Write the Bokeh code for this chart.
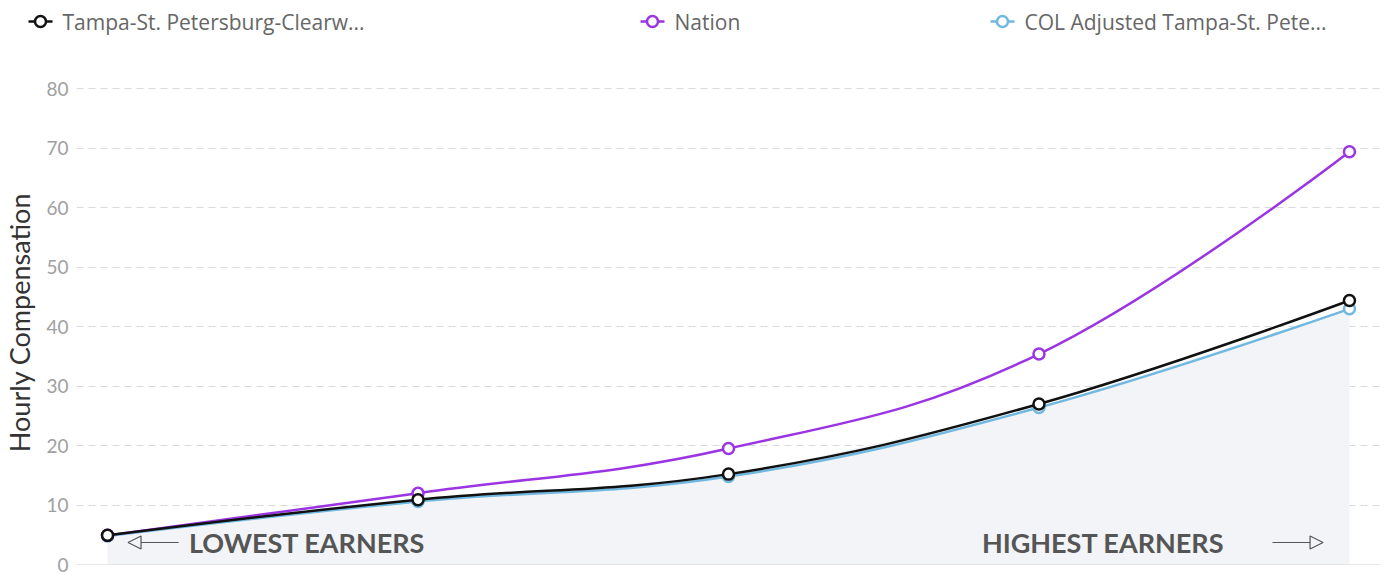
from bokeh.plotting import figure
from bokeh.layouts import column, row
from bokeh.models import (Range1d, Span, Arrow, NormalHead,
                          Label, ColumnDataSource, FixedTicker)
from bokeh.core.properties import value
from bokeh.embed import file_html
from bokeh.resources import INLINE

# ---- data ----
percentiles = [0, 1, 2, 3, 4]  # lowest -> highest earners
tampa = [4.9, 10.9, 15.2, 27.0, 44.4]
nation = [4.9, 12.0, 19.5, 35.4, 69.4]
col_adjusted = [4.8, 10.6, 14.8, 26.4, 43.0]
series_names = ["Tampa-St. Petersburg-Clearw...", "Nation", "COL Adjusted Tampa-St. Pete..."]
y_ticks = [0, 10, 20, 30, 40, 50, 60, 70, 80]

C_TAMPA = "#111111"
C_NATION = "#9b34e3"
C_COL = "#70b8e0"
colors = [C_TAMPA, C_NATION, C_COL]


def spline_segments(xs, ys, smoothing=1.5):
    """Cubic bezier segments through the points (Highcharts-style spline)."""
    n = len(xs)
    left = [(xs[i], ys[i]) for i in range(n)]
    right = [(xs[i], ys[i]) for i in range(n)]
    d = smoothing + 1
    for i in range(1, n - 1):
        x, y = xs[i], ys[i]
        lx, ly = xs[i - 1], ys[i - 1]
        nx, ny = xs[i + 1], ys[i + 1]
        lcx = (smoothing * x + lx) / d
        lcy = (smoothing * y + ly) / d
        rcx = (smoothing * x + nx) / d
        rcy = (smoothing * y + ny) / d
        if rcx != lcx:
            corr = ((rcy - lcy) * (rcx - x)) / (rcx - lcx) + y - rcy
            lcy += corr
            rcy += corr
        if lcy > ly and lcy > y:
            lcy = max(ly, y)
            rcy = 2 * y - lcy
        elif lcy < ly and lcy < y:
            lcy = min(ly, y)
            rcy = 2 * y - lcy
        if rcy > ny and rcy > y:
            rcy = max(ny, y)
            lcy = 2 * y - rcy
        elif rcy < ny and rcy < y:
            rcy = min(ny, y)
            lcy = 2 * y - rcy
        left[i] = (lcx, lcy)
        right[i] = (rcx, rcy)
    seg = dict(x0=[], y0=[], x1=[], y1=[], cx0=[], cy0=[], cx1=[], cy1=[])
    for i in range(n - 1):
        seg["x0"].append(xs[i]); seg["y0"].append(ys[i])
        seg["x1"].append(xs[i + 1]); seg["y1"].append(ys[i + 1])
        seg["cx0"].append(right[i][0]); seg["cy0"].append(right[i][1])
        seg["cx1"].append(left[i + 1][0]); seg["cy1"].append(left[i + 1][1])
    return ColumnDataSource(seg)


# ---------- legend strip (pixel coordinates) ----------
lgfig = figure(width=1387, height=45, output_backend="svg", toolbar_location=None,
               x_range=Range1d(0, 1387), y_range=Range1d(45, 0),
               min_border=0, min_border_left=0, min_border_right=0,
               min_border_top=0, min_border_bottom=0)
lgfig.axis.visible = False
lgfig.grid.visible = False
lgfig.outline_line_color = None
glyph_left = [28, 640, 990]
lg_y = 21
lgsrc = ColumnDataSource(dict(
    x0=glyph_left, x1=[g + 24 for g in glyph_left], xc=[g + 12 for g in glyph_left],
    y=[lg_y] * 3, tx=[g + 34 for g in glyph_left], color=colors, label=series_names))
lgfig.segment(x0="x0", x1="x1", y0="y", y1="y", line_color="color", line_width=2.5, source=lgsrc)
lgfig.scatter(x="xc", y="y", size=11, marker="circle", fill_color="white",
              line_color="color", line_width=2.5, source=lgsrc)
lgfig.text(x="tx", y="y", text="label", text_font=value("Open Sans"), text_font_size="21px",
           text_color="#666666", text_baseline="middle", text_align="left", source=lgsrc)

# ---------- main chart ----------
p = figure(frame_width=1304, frame_height=484, output_backend="svg", toolbar_location=None,
           x_range=Range1d(-0.1, 4.1), y_range=Range1d(0, 81.4),
           min_border_left=76, min_border_right=7, min_border_top=35, min_border_bottom=11)
p.outline_line_color = None
p.background_fill_color = "white"

p.xaxis.visible = False
yax = p.yaxis[0]
yax.ticker = FixedTicker(ticks=y_ticks)
yax.axis_line_color = None
yax.major_tick_line_color = None
yax.minor_tick_line_color = None
yax.major_tick_out = 0
yax.major_tick_in = 0
yax.major_label_text_font = "Lato"
yax.major_label_text_font_size = "19px"
yax.major_label_text_color = "#a0a0a0"
yax.major_label_standoff = 8
yax.axis_label = "Hourly Compensation"
yax.axis_label_text_font = "Lato"
yax.axis_label_text_font_style = "normal"
yax.axis_label_text_font_size = "27px"
yax.axis_label_text_color = "#333333"
yax.axis_label_standoff = 7

p.xgrid.visible = False
p.ygrid.grid_line_color = "#d9d9d9"
p.ygrid.grid_line_dash = "7 5"
p.ygrid.grid_line_width = 1
p.add_layout(Span(location=0, dimension="width", line_color="#cfcfcf", line_width=1.2))

# area under COL adjusted series
p.varea(x=percentiles, y1=0, y2=col_adjusted, fill_color="#f2f4f7", fill_alpha=1)

for vals, color in [(col_adjusted, C_COL), (nation, C_NATION), (tampa, C_TAMPA)]:
    src = spline_segments(percentiles, vals)
    p.bezier(x0="x0", y0="y0", x1="x1", y1="y1", cx0="cx0", cy0="cy0", cx1="cx1", cy1="cy1",
             source=src, line_color=color, line_width=2.5)
    p.scatter(x=percentiles, y=vals, size=11, marker="circle", fill_color="white",
              line_color=color, line_width=2.5)

# earner annotations
head_l = NormalHead(size=13, fill_alpha=0, line_color="#555555", line_width=1.2)
head_r = NormalHead(size=13, fill_alpha=0, line_color="#555555", line_width=1.2)
p.add_layout(Arrow(end=head_l, x_start=0.229, y_start=3.7, x_end=0.066, y_end=3.7,
                   line_color="#555555", line_width=1.2))
p.add_layout(Arrow(end=head_r, x_start=3.752, y_start=3.7, x_end=3.915, y_end=3.7,
                   line_color="#555555", line_width=1.2))
p.add_layout(Label(x=0.262, y=3.7, text="LOWEST EARNERS", text_baseline="middle",
                   text_align="left", text_font="Lato", text_font_style="bold",
                   text_font_size="27px", text_color="#555555"))
p.add_layout(Label(x=3.597, y=3.7, text="HIGHEST EARNERS", text_baseline="middle",
                   text_align="right", text_font="Lato", text_font_style="bold",
                   text_font_size="27px", text_color="#555555"))

layout = column(row(lgfig), p, spacing=0)
open("out.html", "w").write(file_html(layout, INLINE))
